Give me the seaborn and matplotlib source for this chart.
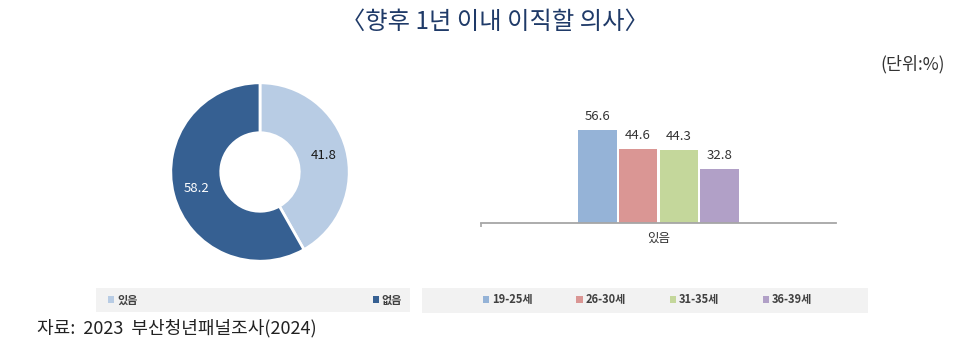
import matplotlib
matplotlib.use("Agg")
import matplotlib.pyplot as plt
from matplotlib.patches import Patch, Rectangle
import seaborn as sns
import pandas as pd

# 이직 의사 (전체)
intent_labels = ["있음", "없음"]
intent_values = [41.8, 58.2]

# 연령대별 '있음' 비율
age_groups = ["19-25세", "26-30세", "31-35세", "36-39세"]
age_values = [56.6, 44.6, 44.3, 32.8]
bar_category = "있음"

title_text = "〈향후 1년 이내 이직할 의사〉"
unit_text = "(단위:%)"
source_text = "자료:  2023  부산청년패널조사(2024)"

donut_colors = ["#b8cce4", "#366092"]
bar_colors = ["#95b3d7", "#da9694", "#c4d79b", "#b1a0c7"]

sns.set_theme(style="white")
plt.rcParams["font.family"] = ["Noto Sans CJK KR", "DejaVu Sans"]

W, H = 970, 345
fig = plt.figure(figsize=(W / 100, H / 100), dpi=100)


def px_box(x0, y0, x1, y1):
    """Pixel box (top-left origin) -> figure fraction rect."""
    return [x0 / W, 1 - y1 / H, (x1 - x0) / W, (y1 - y0) / H]


# ---- donut ----
ax_d = fig.add_axes(px_box(169, 81, 351, 263))
wedges, _, autotexts = ax_d.pie(
    intent_values,
    colors=donut_colors,
    startangle=90,
    counterclock=False,
    radius=1.0,
    autopct=lambda p: f"{p:.1f}",
    pctdistance=0.74,
    wedgeprops=dict(width=0.56, edgecolor="white", linewidth=2),
    textprops=dict(fontsize=9.5),
)
for t, v, c in zip(autotexts, intent_values, ["#1a1a1a", "white"]):
    t.set_text(f"{v:.1f}")
    t.set_color(c)
ax_d.set_xlim(-1.02, 1.02)
ax_d.set_ylim(-1.02, 1.02)
ax_d.set_aspect("equal")
ax_d.axis("off")

# ---- bars ----
df = pd.DataFrame({"구분": [bar_category] * len(age_groups),
                   "연령": age_groups, "비율": age_values})
ax_b = fig.add_axes(px_box(481, 124, 836, 223))
sns.barplot(data=df, x="구분", y="비율", hue="연령", hue_order=age_groups,
            palette=bar_colors, saturation=1, width=0.46, gap=0.05,
            linewidth=0, legend=False, ax=ax_b)
for cont in ax_b.containers:
    ax_b.bar_label(cont, fmt="%.1f", padding=5, fontsize=9.5, color="#333333")
ax_b.set_xlim(-0.5, 0.5)
ax_b.set_ylim(0, 60)
ax_b.set_xlabel("")
ax_b.set_ylabel("")
ax_b.set_yticks([])
for s in ["top", "right", "left"]:
    ax_b.spines[s].set_visible(False)
ax_b.spines["bottom"].set_color("#a6a6a6")
ax_b.spines["bottom"].set_linewidth(1.3)
ax_b.tick_params(axis="x", which="major", length=0, pad=6, labelsize=9,
                 labelcolor="#333333")
ax_b.set_xticks([-0.5], minor=True)
ax_b.tick_params(axis="x", which="minor", length=3, width=1.2, color="#a6a6a6",
                 bottom=True)

# ---- legend backgrounds ----
fig.patches.append(Rectangle((96 / W, 1 - 312 / H), (410 - 96) / W, 24 / H,
                             transform=fig.transFigure, facecolor="#f2f2f2",
                             edgecolor="none", zorder=0))
fig.patches.append(Rectangle((422 / W, 1 - 313 / H), (868 - 422) / W, 25 / H,
                             transform=fig.transFigure, facecolor="#f2f2f2",
                             edgecolor="none", zorder=0))

leg_kw = dict(frameon=False, mode="expand", handlelength=0.55, handleheight=0.55,
              handletextpad=0.25, borderaxespad=0, borderpad=0,
              prop={"size": 8, "weight": "bold"}, labelcolor="#404040",
              loc="center left")

h1 = [Patch(facecolor=c, edgecolor="none") for c in donut_colors]
fig.legend(h1, intent_labels, ncol=2,
           bbox_to_anchor=(108 / W, 1 - 310 / H, (402 - 108) / W, 20 / H), **leg_kw)

h2 = [Patch(facecolor=c, edgecolor="none") for c in bar_colors]
fig.legend(h2, age_groups, ncol=4,
           bbox_to_anchor=(483 / W, 1 - 310 / H, (812 - 483) / W, 20 / H), **leg_kw)

# ---- texts ----
fig.text(495 / W, 1 - 22 / H, title_text, ha="center", va="center",
         fontsize=17.5, color="#1f3a68")
fig.text(945 / W, 1 - 64 / H, unit_text, ha="right", va="center",
         fontsize=12.5, color="#333333")
fig.text(37 / W, 1 - 328 / H, source_text, ha="left", va="center",
         fontsize=13, color="#222222")

fig.savefig("out.png", dpi=100, facecolor="white")
